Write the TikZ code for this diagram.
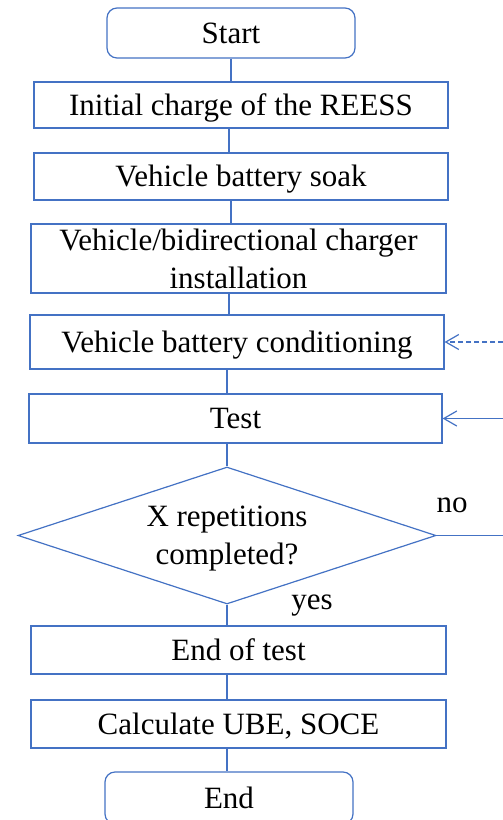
\documentclass[tikz,border=0pt]{standalone}
\usepackage{fontspec}
\newfontfamily\diagfont{Liberation Serif}
\newcommand{\diagsize}{\diagfont\fontsize{31}{38}\selectfont}
\usetikzlibrary{shapes.geometric,arrows.meta}
\definecolor{lineblue}{HTML}{4472C4}
\begin{document}
\begin{tikzpicture}[x=1pt,y=-1pt,
  every node/.style={execute at begin node=\diagsize},
  flowbox/.style={draw=lineblue, line width=1.2pt, fill=white, rectangle, inner sep=0pt, text height=20.5pt, text depth=0pt},
  termbox/.style={flowbox, rounded corners=10pt},
  twoline/.style={align=center, text height=, text depth=, font=\diagsize},
  decision/.style={draw=lineblue, line width=1.2pt, fill=white, diamond, aspect=3.05, inner sep=0pt, align=center, font=\diagsize},
  conn/.style={draw=lineblue, line width=1.2pt},
  arr/.style={conn, -{Straight Barb[length=13pt,width=15pt]}},
  lbl/.style={anchor=base, inner sep=0pt}]
\useasboundingbox (0,0) rectangle (503,820);
% nodes
\node[termbox, minimum width=248pt, minimum height=50pt] (start) at (231,33) {Start};
\node[flowbox, minimum width=414pt, minimum height=46pt] (init) at (241,105) {Initial charge of the REESS};
\node[flowbox, minimum width=414pt, minimum height=47pt] (soak) at (241,176.5) {Vehicle battery soak};
\node[flowbox, twoline, minimum width=415pt, minimum height=69pt] (inst) at (238.5,258.5) {Vehicle/bidirectional charger\\installation};
\node[flowbox, minimum width=414pt, minimum height=54pt] (cond) at (237,342) {Vehicle battery conditioning};
\node[flowbox, minimum width=413pt, minimum height=49pt] (test) at (235.5,418.5) {Test};
\node[decision, minimum width=418pt, minimum height=137pt] (dec) at (227,535.5) {X repetitions\\\smash{completed?}};
\node[flowbox, minimum width=415pt, minimum height=48pt] (endt) at (238.5,650) {End of test};
\node[flowbox, minimum width=415pt, minimum height=48pt] (calc) at (238.5,724) {Calculate UBE, SOCE};
\node[termbox, minimum width=248pt, minimum height=52pt] (end) at (229,798) {End};
% labels
\node[lbl] (no) at (452,512) {no};
\node[lbl] (yes) at (312,609) {yes};
% free ends on the right
\coordinate (rc) at (503,342);
\coordinate (rt) at (503,418.5);
\coordinate (rd) at (503,535.5);
% connectors
\draw[conn] (start.south) -- (start.south |- init.north);
\draw[conn] ([xshift=-12pt]init.south) -- ([xshift=-12pt]init.south |- soak.north);
\draw[conn] ([xshift=-10pt]soak.south) -- ([xshift=-10pt]soak.south |- inst.north);
\draw[conn] ([xshift=-9.5pt]inst.south) -- ([xshift=-9.5pt]inst.south |- cond.north);
\draw[conn] ([xshift=-10pt]cond.south) -- ([xshift=-10pt]cond.south |- test.north);
\draw[conn] (dec.north |- test.south) -- (dec.north);
\draw[conn] (dec.south) -- (dec.south |- endt.north);
\draw[conn] ([xshift=-11.5pt]endt.south) -- ([xshift=-11.5pt]endt.south |- calc.north);
\draw[conn] ([xshift=-11.5pt]calc.south) -- ([xshift=-11.5pt]calc.south |- end.north);
\draw[arr, dash pattern=on 5pt off 3pt] (rc) -- (cond.east);
\draw[arr] (rt) -- (test.east);
\draw[conn] (dec.east) -- (rd);
\end{tikzpicture}
\end{document}
